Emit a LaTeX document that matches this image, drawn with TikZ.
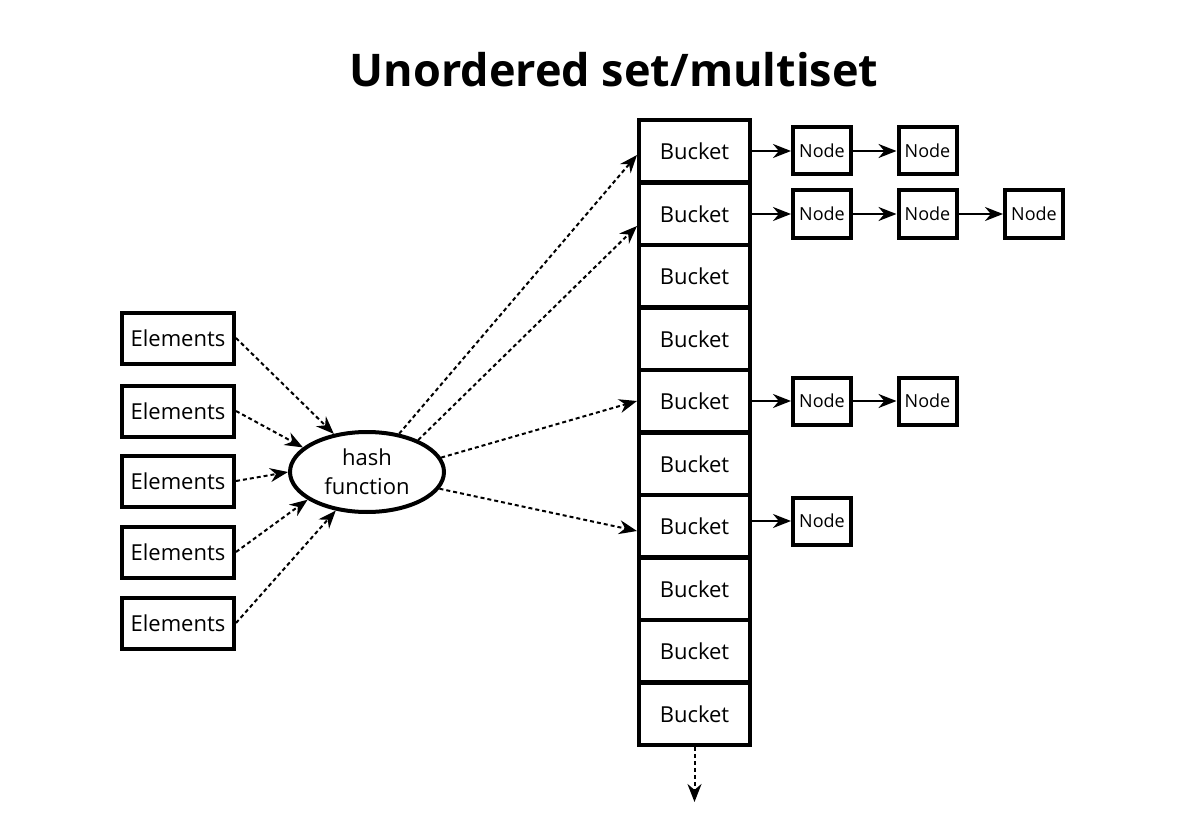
\documentclass[tikz,border=0pt]{standalone}
\usepackage{fontspec}
\setmainfont{Open Sans}
\usetikzlibrary{arrows.meta,calc,shapes.geometric}
\begin{document}
\begin{tikzpicture}[x=1pt,y=-1pt,
  elem/.style={draw,line width=4pt,minimum width=112pt,minimum height=51pt,inner sep=0pt,font=\fontsize{22}{24}\selectfont},
  bucket/.style={draw,line width=4pt,minimum width=111pt,minimum height=62.7pt,inner sep=0pt,font=\fontsize{22}{24}\selectfont},
  lnode/.style={draw,line width=4pt,minimum width=58pt,minimum height=47pt,inner sep=0pt,font=\fontsize{18}{20}\selectfont},
  dotarrow/.style={line width=2pt,dash pattern=on 4pt off 3pt,-{Stealth[length=18pt,width=14pt]}},
  solidarrow/.style={line width=2pt,-{Stealth[length=18pt,width=14pt]}}]
\useasboundingbox (0,0) rectangle (1187,832);
\node[font=\bfseries\fontsize{45}{48}\selectfont] (title) at (614,70) {Unordered set/multiset};
% elements
\node[elem] (e1) at (178,338) {Elements};
\node[elem] (e2) at (178,411) {Elements};
\node[elem] (e3) at (178,481) {Elements};
\node[elem] (e4) at (178,552) {Elements};
\node[elem] (e5) at (178,623) {Elements};
% hash
\node[draw,ellipse,line width=4pt,minimum width=154pt,minimum height=80pt,inner sep=0pt,align=center,font=\fontsize{22}{29}\selectfont] (hash) at (367,472) {hash\\function};
% buckets
\foreach \i/\y in {1/151,2/214,3/276,4/339,5/401,6/464,7/526,8/589,9/651,10/714}{
  \node[bucket] (b\i) at (694.5,\y) {Bucket};
}
% list nodes
\node[lnode] (n11) at (822,151) {Node};
\node[lnode] (n12) at (927.5,151) {Node};
\node[lnode] (n21) at (822,214) {Node};
\node[lnode] (n22) at (927.5,214) {Node};
\node[lnode] (n23) at (1034,214) {Node};
\node[lnode] (n51) at (822,401) {Node};
\node[lnode] (n52) at (927.5,401) {Node};
\node[lnode] (n71) at (822,521) {Node};
% element arrows
\draw[dotarrow] (e1.east) -- (hash.131);
\draw[dotarrow] (e2.east) -- (hash.159);
\draw[dotarrow] (e3.east) -- (hash.180);
\draw[dotarrow] (e4.east) -- (hash.205);
\draw[dotarrow] (e5.east) -- (hash.231);
% hash to buckets
\draw[dotarrow] (hash.50) -- ($(b1.west)+(0,4)$);
\draw[dotarrow] (hash.32) -- ($(b2.west)+(0,12)$);
\draw[dotarrow] (hash.11) -- (b5.west);
\draw[dotarrow] (hash.-13) -- ($(b7.west)+(0,5)$);
% bucket chains
\draw[solidarrow] (b1.east) -- (n11.west);
\draw[solidarrow] (n11.east) -- (n12.west);
\draw[solidarrow] (b2.east) -- (n21.west);
\draw[solidarrow] (n21.east) -- (n22.west);
\draw[solidarrow] (n22.east) -- (n23.west);
\draw[solidarrow] (b5.east) -- (n51.west);
\draw[solidarrow] (n51.east) -- (n52.west);
\draw[solidarrow] ($(b7.east)+(0,-5)$) -- (n71.west);
% continuation
\coordinate (more) at (694.5,802);
\draw[dotarrow] (b10.south) -- (more);
\end{tikzpicture}
\end{document}
